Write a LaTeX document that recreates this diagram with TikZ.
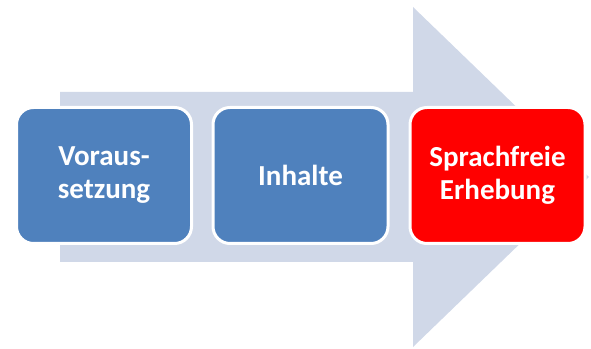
\documentclass[tikz,border=0pt]{standalone}
\usepackage{fontspec}
\setmainfont{Carlito}
\definecolor{arrowgrey}{HTML}{D0D8E8}
\definecolor{boxblue}{HTML}{4F81BD}
\definecolor{boxred}{HTML}{FF0000}
\tikzset{
  x=1pt, y=1pt,
  stepbox/.style={draw=white, line width=3pt, rounded corners=17pt,
    minimum width=175pt, minimum height=136pt, inner sep=0pt,
    text=white, align=center,
    font=\fontsize{29}{33}\selectfont\bfseries},
}
\begin{document}
\begin{tikzpicture}
\useasboundingbox (0,0) rectangle (591,348);
% big background arrow
\fill[arrowgrey] (60,256) -- (413,256) -- (413,341) -- (589,171)
  -- (413,1) -- (413,86) -- (60,86) -- cycle;
% process steps
\node[stepbox, fill=boxblue] (s1) at (104,172.5) {Voraus-\\setzung};
\node[stepbox, fill=boxblue] (s2) at (300.5,172.5) {Inhalte};
\node[stepbox, fill=boxred]  (s3) at (497.5,172.5) {Sprachfreie\\Erhebung};
\end{tikzpicture}
\end{document}
